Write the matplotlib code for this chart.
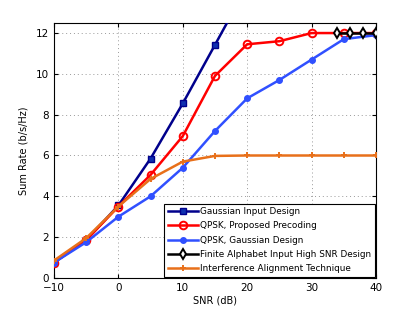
import matplotlib
matplotlib.use("Agg")
import matplotlib.pyplot as plt

snr = [-10, -5, 0, 5, 10, 15, 20, 25, 30, 35, 40]
gauss_snr = [-10, -5, 0, 5, 10, 15, 20]
gauss_rate = [0.75, 1.85, 3.55, 5.85, 8.55, 11.42, 14.3]
qpsk_prop = [0.75, 1.85, 3.5, 5.05, 6.95, 9.9, 11.45, 11.6, 12.0, 12.0, 12.0]
qpsk_gauss = [0.75, 1.75, 3.0, 4.0, 5.4, 7.2, 8.8, 9.7, 10.7, 11.7, 11.9]
fa_snr = [34, 36, 38, 40]
fa_rate = [12.0, 12.0, 12.0, 12.0]
ia_rate = [0.85, 1.95, 3.5, 4.85, 5.7, 5.98, 6.0, 6.0, 6.0, 6.0, 6.0]

labels = ["Gaussian Input Design", "QPSK, Proposed Precoding",
          "QPSK, Gaussian Design", "Finite Alphabet Input High SNR Design",
          "Interference Alignment Technique"]

fig = plt.figure(figsize=(4.15, 3.13), dpi=100)
ax = fig.add_axes([0.130, 0.112, 0.776, 0.815])

ax.plot(gauss_snr, gauss_rate, color="#00008c", lw=1.8, marker="s", ms=4.5,
        mfc="#1030b0", mec="#00008c", label=labels[0], zorder=3)
ax.plot(snr, qpsk_prop, color="#ff0000", lw=1.8, marker="o", ms=5.5,
        mfc="none", mec="#ff0000", mew=1.4, label=labels[1], zorder=3)
ax.plot(snr, qpsk_gauss, color="#3050ff", lw=1.8, marker="o", ms=4,
        mfc="#3050ff", mec="#3050ff", label=labels[2], zorder=3)
ax.plot(fa_snr, fa_rate, color="black", lw=1.8, marker="d", ms=5,
        mfc="white", mec="black", mew=1.4, label=labels[3], zorder=4)
ax.plot(snr, ia_rate, color="#e8701a", lw=1.8, marker="+", ms=5,
        mew=1.4, label=labels[4], zorder=3)

ax.set_xlim(-10, 40)
ax.set_ylim(0, 12.5)
ax.set_xticks([-10, 0, 10, 20, 30, 40])
ax.set_xticklabels(["\u221210", "0", "10", "20", "30", "40"])
ax.set_yticks([0, 2, 4, 6, 8, 10, 12])
ax.grid(True, ls=(0, (1, 3)), color="#999999", lw=0.7)
ax.tick_params(direction="in", top=True, right=True, labelsize=7.5, length=3)
for s in ax.spines.values():
    s.set_linewidth(0.8)

ax.set_xlabel("SNR (dB)", fontsize=7, labelpad=2)
ax.set_ylabel("Sum Rate (b/s/Hz)", fontsize=7, labelpad=5)

leg = ax.legend(loc="lower right", fontsize=6.4, fancybox=False, framealpha=1,
                edgecolor="black", borderpad=0.4, labelspacing=0.6,
                handlelength=3.4, handletextpad=0.3, borderaxespad=0.1)
leg.get_frame().set_linewidth(0.8)

fig.savefig("out.png", dpi=100)
